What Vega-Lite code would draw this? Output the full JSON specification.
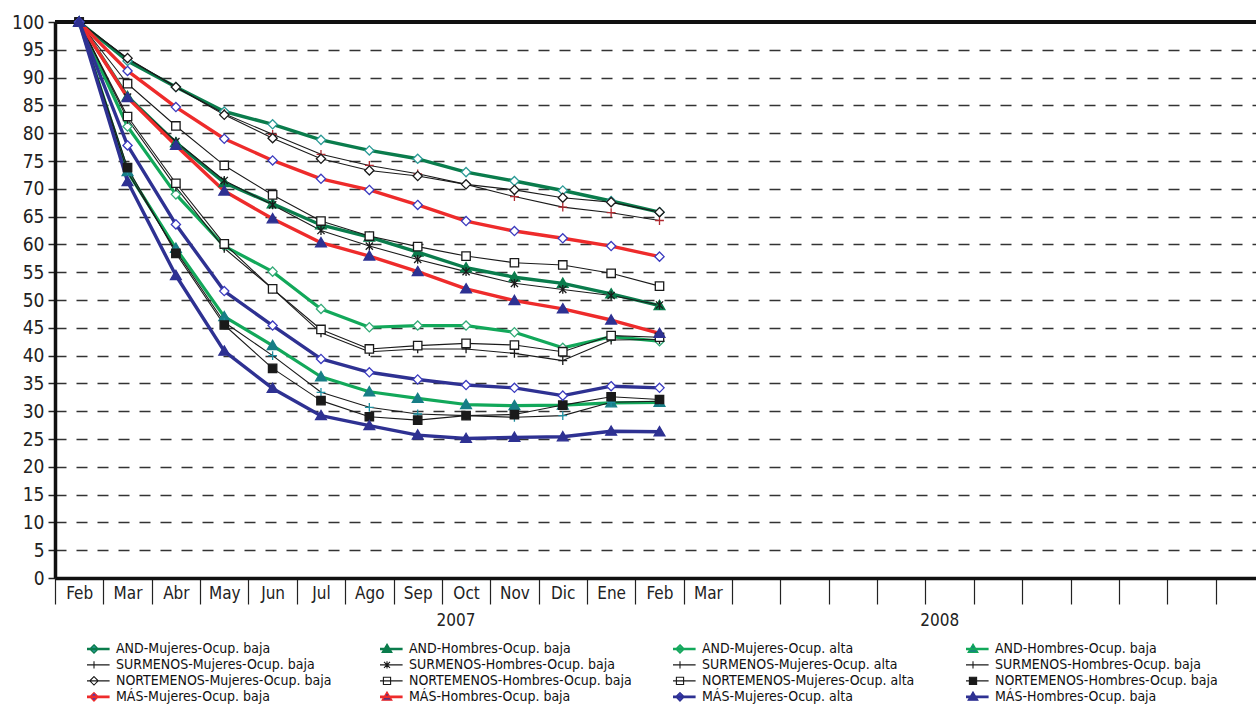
{
  "$schema": "https://vega.github.io/schema/vega-lite/v6.json",
  "autosize": {"type": "none"},
  "padding": {"left": 55, "top": 22, "right": 0, "bottom": 133},
  "width": 1201,
  "height": 556,
  "background": "white",
  "config": {
    "view": {"stroke": null},
    "font": "DejaVu Sans Condensed",
    "axis": {"labelFont": "DejaVu Sans Condensed", "labelColor": "#222"},
    "legend": {"labelFont": "DejaVu Sans Condensed"},
    "text": {"font": "DejaVu Sans Condensed"}
  },
  "data": {"values": [
    {"s":"AND-Mujeres-Ocup. baja","m":"Feb07","v":100},{"s":"AND-Mujeres-Ocup. baja","m":"Mar07","v":93.0},{"s":"AND-Mujeres-Ocup. baja","m":"Abr07","v":88.3},{"s":"AND-Mujeres-Ocup. baja","m":"May07","v":83.9},{"s":"AND-Mujeres-Ocup. baja","m":"Jun07","v":81.6},{"s":"AND-Mujeres-Ocup. baja","m":"Jul07","v":78.8},{"s":"AND-Mujeres-Ocup. baja","m":"Ago07","v":76.9},{"s":"AND-Mujeres-Ocup. baja","m":"Sep07","v":75.4},{"s":"AND-Mujeres-Ocup. baja","m":"Oct07","v":73.0},{"s":"AND-Mujeres-Ocup. baja","m":"Nov07","v":71.4},{"s":"AND-Mujeres-Ocup. baja","m":"Dic07","v":69.7},{"s":"AND-Mujeres-Ocup. baja","m":"Ene08","v":67.8},{"s":"AND-Mujeres-Ocup. baja","m":"Feb08","v":65.8},
    {"s":"AND-Hombres-Ocup. baja","m":"Feb07","v":100},{"s":"AND-Hombres-Ocup. baja","m":"Mar07","v":86.6},{"s":"AND-Hombres-Ocup. baja","m":"Abr07","v":78.3},{"s":"AND-Hombres-Ocup. baja","m":"May07","v":71.1},{"s":"AND-Hombres-Ocup. baja","m":"Jun07","v":67.3},{"s":"AND-Hombres-Ocup. baja","m":"Jul07","v":63.5},{"s":"AND-Hombres-Ocup. baja","m":"Ago07","v":61.3},{"s":"AND-Hombres-Ocup. baja","m":"Sep07","v":58.6},{"s":"AND-Hombres-Ocup. baja","m":"Oct07","v":55.8},{"s":"AND-Hombres-Ocup. baja","m":"Nov07","v":54.1},{"s":"AND-Hombres-Ocup. baja","m":"Dic07","v":53.0},{"s":"AND-Hombres-Ocup. baja","m":"Ene08","v":51.1},{"s":"AND-Hombres-Ocup. baja","m":"Feb08","v":49.0},
    {"s":"AND-Mujeres-Ocup. alta","m":"Feb07","v":100},{"s":"AND-Mujeres-Ocup. alta","m":"Mar07","v":81.2},{"s":"AND-Mujeres-Ocup. alta","m":"Abr07","v":69.0},{"s":"AND-Mujeres-Ocup. alta","m":"May07","v":59.7},{"s":"AND-Mujeres-Ocup. alta","m":"Jun07","v":55.1},{"s":"AND-Mujeres-Ocup. alta","m":"Jul07","v":48.4},{"s":"AND-Mujeres-Ocup. alta","m":"Ago07","v":45.1},{"s":"AND-Mujeres-Ocup. alta","m":"Sep07","v":45.4},{"s":"AND-Mujeres-Ocup. alta","m":"Oct07","v":45.4},{"s":"AND-Mujeres-Ocup. alta","m":"Nov07","v":44.2},{"s":"AND-Mujeres-Ocup. alta","m":"Dic07","v":41.4},{"s":"AND-Mujeres-Ocup. alta","m":"Ene08","v":43.4},{"s":"AND-Mujeres-Ocup. alta","m":"Feb08","v":42.6},
    {"s":"AND-Hombres-Ocup. baja#2","m":"Feb07","v":100},{"s":"AND-Hombres-Ocup. baja#2","m":"Mar07","v":73.1},{"s":"AND-Hombres-Ocup. baja#2","m":"Abr07","v":59.3},{"s":"AND-Hombres-Ocup. baja#2","m":"May07","v":47.0},{"s":"AND-Hombres-Ocup. baja#2","m":"Jun07","v":41.8},{"s":"AND-Hombres-Ocup. baja#2","m":"Jul07","v":36.2},{"s":"AND-Hombres-Ocup. baja#2","m":"Ago07","v":33.5},{"s":"AND-Hombres-Ocup. baja#2","m":"Sep07","v":32.3},{"s":"AND-Hombres-Ocup. baja#2","m":"Oct07","v":31.2},{"s":"AND-Hombres-Ocup. baja#2","m":"Nov07","v":31.0},{"s":"AND-Hombres-Ocup. baja#2","m":"Dic07","v":31.1},{"s":"AND-Hombres-Ocup. baja#2","m":"Ene08","v":31.5},{"s":"AND-Hombres-Ocup. baja#2","m":"Feb08","v":31.6},
    {"s":"SURMENOS-Mujeres-Ocup. baja","m":"Feb07","v":100},{"s":"SURMENOS-Mujeres-Ocup. baja","m":"Mar07","v":93.4},{"s":"SURMENOS-Mujeres-Ocup. baja","m":"Abr07","v":88.3},{"s":"SURMENOS-Mujeres-Ocup. baja","m":"May07","v":83.5},{"s":"SURMENOS-Mujeres-Ocup. baja","m":"Jun07","v":79.8},{"s":"SURMENOS-Mujeres-Ocup. baja","m":"Jul07","v":76.2},{"s":"SURMENOS-Mujeres-Ocup. baja","m":"Ago07","v":74.2},{"s":"SURMENOS-Mujeres-Ocup. baja","m":"Sep07","v":72.7},{"s":"SURMENOS-Mujeres-Ocup. baja","m":"Oct07","v":70.8},{"s":"SURMENOS-Mujeres-Ocup. baja","m":"Nov07","v":68.6},{"s":"SURMENOS-Mujeres-Ocup. baja","m":"Dic07","v":66.7},{"s":"SURMENOS-Mujeres-Ocup. baja","m":"Ene08","v":65.7},{"s":"SURMENOS-Mujeres-Ocup. baja","m":"Feb08","v":64.3},
    {"s":"SURMENOS-Hombres-Ocup. baja","m":"Feb07","v":100},{"s":"SURMENOS-Hombres-Ocup. baja","m":"Mar07","v":86.5},{"s":"SURMENOS-Hombres-Ocup. baja","m":"Abr07","v":78.5},{"s":"SURMENOS-Hombres-Ocup. baja","m":"May07","v":71.5},{"s":"SURMENOS-Hombres-Ocup. baja","m":"Jun07","v":67.1},{"s":"SURMENOS-Hombres-Ocup. baja","m":"Jul07","v":62.5},{"s":"SURMENOS-Hombres-Ocup. baja","m":"Ago07","v":59.7},{"s":"SURMENOS-Hombres-Ocup. baja","m":"Sep07","v":57.3},{"s":"SURMENOS-Hombres-Ocup. baja","m":"Oct07","v":55.1},{"s":"SURMENOS-Hombres-Ocup. baja","m":"Nov07","v":53.0},{"s":"SURMENOS-Hombres-Ocup. baja","m":"Dic07","v":51.9},{"s":"SURMENOS-Hombres-Ocup. baja","m":"Ene08","v":50.8},{"s":"SURMENOS-Hombres-Ocup. baja","m":"Feb08","v":49.1},
    {"s":"SURMENOS-Mujeres-Ocup. alta","m":"Feb07","v":100},{"s":"SURMENOS-Mujeres-Ocup. alta","m":"Mar07","v":82.5},{"s":"SURMENOS-Mujeres-Ocup. alta","m":"Abr07","v":70.3},{"s":"SURMENOS-Mujeres-Ocup. alta","m":"May07","v":59.3},{"s":"SURMENOS-Mujeres-Ocup. alta","m":"Jun07","v":52.0},{"s":"SURMENOS-Mujeres-Ocup. alta","m":"Jul07","v":44.1},{"s":"SURMENOS-Mujeres-Ocup. alta","m":"Ago07","v":40.7},{"s":"SURMENOS-Mujeres-Ocup. alta","m":"Sep07","v":41.2},{"s":"SURMENOS-Mujeres-Ocup. alta","m":"Oct07","v":41.2},{"s":"SURMENOS-Mujeres-Ocup. alta","m":"Nov07","v":40.4},{"s":"SURMENOS-Mujeres-Ocup. alta","m":"Dic07","v":39.1},{"s":"SURMENOS-Mujeres-Ocup. alta","m":"Ene08","v":42.8},{"s":"SURMENOS-Mujeres-Ocup. alta","m":"Feb08","v":42.9},
    {"s":"SURMENOS-Hombres-Ocup. baja#2","m":"Feb07","v":100},{"s":"SURMENOS-Hombres-Ocup. baja#2","m":"Mar07","v":73.0},{"s":"SURMENOS-Hombres-Ocup. baja#2","m":"Abr07","v":58.8},{"s":"SURMENOS-Hombres-Ocup. baja#2","m":"May07","v":46.0},{"s":"SURMENOS-Hombres-Ocup. baja#2","m":"Jun07","v":40.0},{"s":"SURMENOS-Hombres-Ocup. baja#2","m":"Jul07","v":33.4},{"s":"SURMENOS-Hombres-Ocup. baja#2","m":"Ago07","v":30.7},{"s":"SURMENOS-Hombres-Ocup. baja#2","m":"Sep07","v":29.5},{"s":"SURMENOS-Hombres-Ocup. baja#2","m":"Oct07","v":29.2},{"s":"SURMENOS-Hombres-Ocup. baja#2","m":"Nov07","v":28.9},{"s":"SURMENOS-Hombres-Ocup. baja#2","m":"Dic07","v":29.2},{"s":"SURMENOS-Hombres-Ocup. baja#2","m":"Ene08","v":31.6},{"s":"SURMENOS-Hombres-Ocup. baja#2","m":"Feb08","v":31.8},
    {"s":"NORTEMENOS-Mujeres-Ocup. baja","m":"Feb07","v":100},{"s":"NORTEMENOS-Mujeres-Ocup. baja","m":"Mar07","v":93.5},{"s":"NORTEMENOS-Mujeres-Ocup. baja","m":"Abr07","v":88.3},{"s":"NORTEMENOS-Mujeres-Ocup. baja","m":"May07","v":83.3},{"s":"NORTEMENOS-Mujeres-Ocup. baja","m":"Jun07","v":79.1},{"s":"NORTEMENOS-Mujeres-Ocup. baja","m":"Jul07","v":75.4},{"s":"NORTEMENOS-Mujeres-Ocup. baja","m":"Ago07","v":73.3},{"s":"NORTEMENOS-Mujeres-Ocup. baja","m":"Sep07","v":72.3},{"s":"NORTEMENOS-Mujeres-Ocup. baja","m":"Oct07","v":70.8},{"s":"NORTEMENOS-Mujeres-Ocup. baja","m":"Nov07","v":69.8},{"s":"NORTEMENOS-Mujeres-Ocup. baja","m":"Dic07","v":68.4},{"s":"NORTEMENOS-Mujeres-Ocup. baja","m":"Ene08","v":67.6},{"s":"NORTEMENOS-Mujeres-Ocup. baja","m":"Feb08","v":65.8},
    {"s":"NORTEMENOS-Hombres-Ocup. baja","m":"Feb07","v":100},{"s":"NORTEMENOS-Hombres-Ocup. baja","m":"Mar07","v":88.9},{"s":"NORTEMENOS-Hombres-Ocup. baja","m":"Abr07","v":81.3},{"s":"NORTEMENOS-Hombres-Ocup. baja","m":"May07","v":74.2},{"s":"NORTEMENOS-Hombres-Ocup. baja","m":"Jun07","v":68.9},{"s":"NORTEMENOS-Hombres-Ocup. baja","m":"Jul07","v":64.2},{"s":"NORTEMENOS-Hombres-Ocup. baja","m":"Ago07","v":61.5},{"s":"NORTEMENOS-Hombres-Ocup. baja","m":"Sep07","v":59.6},{"s":"NORTEMENOS-Hombres-Ocup. baja","m":"Oct07","v":57.9},{"s":"NORTEMENOS-Hombres-Ocup. baja","m":"Nov07","v":56.7},{"s":"NORTEMENOS-Hombres-Ocup. baja","m":"Dic07","v":56.3},{"s":"NORTEMENOS-Hombres-Ocup. baja","m":"Ene08","v":54.8},{"s":"NORTEMENOS-Hombres-Ocup. baja","m":"Feb08","v":52.5},
    {"s":"NORTEMENOS-Mujeres-Ocup. alta","m":"Feb07","v":100},{"s":"NORTEMENOS-Mujeres-Ocup. alta","m":"Mar07","v":83.0},{"s":"NORTEMENOS-Mujeres-Ocup. alta","m":"Abr07","v":71.0},{"s":"NORTEMENOS-Mujeres-Ocup. alta","m":"May07","v":60.1},{"s":"NORTEMENOS-Mujeres-Ocup. alta","m":"Jun07","v":52.0},{"s":"NORTEMENOS-Mujeres-Ocup. alta","m":"Jul07","v":44.7},{"s":"NORTEMENOS-Mujeres-Ocup. alta","m":"Ago07","v":41.2},{"s":"NORTEMENOS-Mujeres-Ocup. alta","m":"Sep07","v":41.8},{"s":"NORTEMENOS-Mujeres-Ocup. alta","m":"Oct07","v":42.2},{"s":"NORTEMENOS-Mujeres-Ocup. alta","m":"Nov07","v":41.9},{"s":"NORTEMENOS-Mujeres-Ocup. alta","m":"Dic07","v":40.7},{"s":"NORTEMENOS-Mujeres-Ocup. alta","m":"Ene08","v":43.6},{"s":"NORTEMENOS-Mujeres-Ocup. alta","m":"Feb08","v":43.3},
    {"s":"NORTEMENOS-Hombres-Ocup. baja#2","m":"Feb07","v":100},{"s":"NORTEMENOS-Hombres-Ocup. baja#2","m":"Mar07","v":73.8},{"s":"NORTEMENOS-Hombres-Ocup. baja#2","m":"Abr07","v":58.4},{"s":"NORTEMENOS-Hombres-Ocup. baja#2","m":"May07","v":45.5},{"s":"NORTEMENOS-Hombres-Ocup. baja#2","m":"Jun07","v":37.7},{"s":"NORTEMENOS-Hombres-Ocup. baja#2","m":"Jul07","v":31.9},{"s":"NORTEMENOS-Hombres-Ocup. baja#2","m":"Ago07","v":29.0},{"s":"NORTEMENOS-Hombres-Ocup. baja#2","m":"Sep07","v":28.4},{"s":"NORTEMENOS-Hombres-Ocup. baja#2","m":"Oct07","v":29.2},{"s":"NORTEMENOS-Hombres-Ocup. baja#2","m":"Nov07","v":29.4},{"s":"NORTEMENOS-Hombres-Ocup. baja#2","m":"Dic07","v":31.1},{"s":"NORTEMENOS-Hombres-Ocup. baja#2","m":"Ene08","v":32.6},{"s":"NORTEMENOS-Hombres-Ocup. baja#2","m":"Feb08","v":32.1},
    {"s":"MÁS-Mujeres-Ocup. baja","m":"Feb07","v":100},{"s":"MÁS-Mujeres-Ocup. baja","m":"Mar07","v":91.2},{"s":"MÁS-Mujeres-Ocup. baja","m":"Abr07","v":84.7},{"s":"MÁS-Mujeres-Ocup. baja","m":"May07","v":79.0},{"s":"MÁS-Mujeres-Ocup. baja","m":"Jun07","v":75.1},{"s":"MÁS-Mujeres-Ocup. baja","m":"Jul07","v":71.8},{"s":"MÁS-Mujeres-Ocup. baja","m":"Ago07","v":69.8},{"s":"MÁS-Mujeres-Ocup. baja","m":"Sep07","v":67.1},{"s":"MÁS-Mujeres-Ocup. baja","m":"Oct07","v":64.2},{"s":"MÁS-Mujeres-Ocup. baja","m":"Nov07","v":62.4},{"s":"MÁS-Mujeres-Ocup. baja","m":"Dic07","v":61.1},{"s":"MÁS-Mujeres-Ocup. baja","m":"Ene08","v":59.7},{"s":"MÁS-Mujeres-Ocup. baja","m":"Feb08","v":57.8},
    {"s":"MÁS-Hombres-Ocup. baja","m":"Feb07","v":100},{"s":"MÁS-Hombres-Ocup. baja","m":"Mar07","v":86.4},{"s":"MÁS-Hombres-Ocup. baja","m":"Abr07","v":77.8},{"s":"MÁS-Hombres-Ocup. baja","m":"May07","v":69.6},{"s":"MÁS-Hombres-Ocup. baja","m":"Jun07","v":64.6},{"s":"MÁS-Hombres-Ocup. baja","m":"Jul07","v":60.3},{"s":"MÁS-Hombres-Ocup. baja","m":"Ago07","v":57.9},{"s":"MÁS-Hombres-Ocup. baja","m":"Sep07","v":55.1},{"s":"MÁS-Hombres-Ocup. baja","m":"Oct07","v":52.0},{"s":"MÁS-Hombres-Ocup. baja","m":"Nov07","v":49.9},{"s":"MÁS-Hombres-Ocup. baja","m":"Dic07","v":48.4},{"s":"MÁS-Hombres-Ocup. baja","m":"Ene08","v":46.4},{"s":"MÁS-Hombres-Ocup. baja","m":"Feb08","v":44.0},
    {"s":"MÁS-Mujeres-Ocup. alta","m":"Feb07","v":100},{"s":"MÁS-Mujeres-Ocup. alta","m":"Mar07","v":77.8},{"s":"MÁS-Mujeres-Ocup. alta","m":"Abr07","v":63.6},{"s":"MÁS-Mujeres-Ocup. alta","m":"May07","v":51.6},{"s":"MÁS-Mujeres-Ocup. alta","m":"Jun07","v":45.4},{"s":"MÁS-Mujeres-Ocup. alta","m":"Jul07","v":39.4},{"s":"MÁS-Mujeres-Ocup. alta","m":"Ago07","v":37.0},{"s":"MÁS-Mujeres-Ocup. alta","m":"Sep07","v":35.7},{"s":"MÁS-Mujeres-Ocup. alta","m":"Oct07","v":34.7},{"s":"MÁS-Mujeres-Ocup. alta","m":"Nov07","v":34.2},{"s":"MÁS-Mujeres-Ocup. alta","m":"Dic07","v":32.8},{"s":"MÁS-Mujeres-Ocup. alta","m":"Ene08","v":34.5},{"s":"MÁS-Mujeres-Ocup. alta","m":"Feb08","v":34.2},
    {"s":"MÁS-Hombres-Ocup. baja#2","m":"Feb07","v":100},{"s":"MÁS-Hombres-Ocup. baja#2","m":"Mar07","v":71.3},{"s":"MÁS-Hombres-Ocup. baja#2","m":"Abr07","v":54.4},{"s":"MÁS-Hombres-Ocup. baja#2","m":"May07","v":40.8},{"s":"MÁS-Hombres-Ocup. baja#2","m":"Jun07","v":34.1},{"s":"MÁS-Hombres-Ocup. baja#2","m":"Jul07","v":29.2},{"s":"MÁS-Hombres-Ocup. baja#2","m":"Ago07","v":27.4},{"s":"MÁS-Hombres-Ocup. baja#2","m":"Sep07","v":25.7},{"s":"MÁS-Hombres-Ocup. baja#2","m":"Oct07","v":25.1},{"s":"MÁS-Hombres-Ocup. baja#2","m":"Nov07","v":25.3},{"s":"MÁS-Hombres-Ocup. baja#2","m":"Dic07","v":25.4},{"s":"MÁS-Hombres-Ocup. baja#2","m":"Ene08","v":26.4},{"s":"MÁS-Hombres-Ocup. baja#2","m":"Feb08","v":26.3}
  ]},
  "resolve": {"scale": {"shape": "independent", "fill": "independent", "stroke": "independent", "strokeWidth": "independent"}, "axis": {"x": "independent"}},
  "encoding": {
    "x": {
      "field": "m", "type": "ordinal", "sort": null,
      "scale": {"type": "band", "paddingInner": 0, "paddingOuter": 0, "range": [0, 1209],
        "domain": ["Feb07","Mar07","Abr07","May07","Jun07","Jul07","Ago07","Sep07","Oct07","Nov07","Dic07","Ene08","Feb08","Mar08","x15","x16","x17","x18","x19","x20","x21","x22","x23","x24","x25"]},
      "axis": {
        "title": null, "orient": "bottom", "tickBand": "extent", "labelAngle": 0,
        "labelExpr": "indexof(datum.label,'x')==0 ? '' : slice(datum.label,0,3)",
        "domainColor": "#111", "domainWidth": 3.5, "tickColor": "#222", "tickWidth": 1.2, "tickSize": 26,
        "labelFontSize": 17, "labelPadding": -19, "labelBaseline": "top", "grid": false
      }
    },
    "y": {
      "field": "v", "type": "quantitative",
      "scale": {"domain": [0, 100], "nice": false, "zero": true},
      "axis": {
        "title": null, "values": [0,5,10,15,20,25,30,35,40,45,50,55,60,65,70,75,80,85,90,95,100],
        "domainColor": "#111", "domainWidth": 3.5, "tickColor": "#222", "tickWidth": 1.5, "tickSize": 7,
        "labelFontSize": 19, "labelPadding": 4,
        "grid": true, "gridDash": [11, 10], "gridColor": "#333", "gridWidth": 1.5
      }
    }
  },
  "layer": [
    {
      "mark": {"type": "rule", "color": "#111", "strokeWidth": 3.5},
      "encoding": {"y": {"datum": 100}, "x": null}
    },
    {
      "mark": {"type": "line", "strokeJoin": "round"},
      "encoding": {
        "color": {"field": "s", "type": "nominal", "legend": null,
          "scale": {"domain": ["AND-Mujeres-Ocup. baja","AND-Hombres-Ocup. baja","AND-Mujeres-Ocup. alta","AND-Hombres-Ocup. baja#2","SURMENOS-Mujeres-Ocup. baja","SURMENOS-Hombres-Ocup. baja","SURMENOS-Mujeres-Ocup. alta","SURMENOS-Hombres-Ocup. baja#2","NORTEMENOS-Mujeres-Ocup. baja","NORTEMENOS-Hombres-Ocup. baja","NORTEMENOS-Mujeres-Ocup. alta","NORTEMENOS-Hombres-Ocup. baja#2","MÁS-Mujeres-Ocup. baja","MÁS-Hombres-Ocup. baja","MÁS-Mujeres-Ocup. alta","MÁS-Hombres-Ocup. baja#2"],
            "range": ["#0a7c4c","#0a7c4c","#12a85a","#12a85a","#1a1a1a","#1a1a1a","#1a1a1a","#1a1a1a","#1a1a1a","#1a1a1a","#1a1a1a","#1a1a1a","#ee2b2b","#ee2b2b","#2e3192","#2e3192"]}},
        "strokeWidth": {"field": "s", "type": "nominal", "legend": null,
          "scale": {"type": "ordinal", "domain": ["AND-Mujeres-Ocup. baja","AND-Hombres-Ocup. baja","AND-Mujeres-Ocup. alta","AND-Hombres-Ocup. baja#2","SURMENOS-Mujeres-Ocup. baja","SURMENOS-Hombres-Ocup. baja","SURMENOS-Mujeres-Ocup. alta","SURMENOS-Hombres-Ocup. baja#2","NORTEMENOS-Mujeres-Ocup. baja","NORTEMENOS-Hombres-Ocup. baja","NORTEMENOS-Mujeres-Ocup. alta","NORTEMENOS-Hombres-Ocup. baja#2","MÁS-Mujeres-Ocup. baja","MÁS-Hombres-Ocup. baja","MÁS-Mujeres-Ocup. alta","MÁS-Hombres-Ocup. baja#2"],
            "range": [3.4,3.4,3.2,3.2,1.1,1.1,1.1,1.1,1.1,1.1,1.1,1.1,3.4,3.4,3.4,3.4]}}
      }
    },
    {
      "mark": {"type": "point", "filled": true, "size": 16, "strokeWidth": 1.3, "opacity": 1},
      "encoding": {
        "x": {"field": "m", "type": "ordinal", "sort": null, "axis": null},
        "shape": {"field": "s", "type": "nominal", "legend": null,
          "scale": {"domain": ["AND-Mujeres-Ocup. baja","AND-Hombres-Ocup. baja","AND-Mujeres-Ocup. alta","AND-Hombres-Ocup. baja#2","SURMENOS-Mujeres-Ocup. baja","SURMENOS-Hombres-Ocup. baja","SURMENOS-Mujeres-Ocup. alta","SURMENOS-Hombres-Ocup. baja#2","NORTEMENOS-Mujeres-Ocup. baja","NORTEMENOS-Hombres-Ocup. baja","NORTEMENOS-Mujeres-Ocup. alta","NORTEMENOS-Hombres-Ocup. baja#2","MÁS-Mujeres-Ocup. baja","MÁS-Hombres-Ocup. baja","MÁS-Mujeres-Ocup. alta","MÁS-Hombres-Ocup. baja#2"],
            "range": ["M0,-2.3L2.3,0L0,2.3L-2.3,0Z","M0,-2.6L2.7,2L-2.7,2Z","M0,-2.3L2.3,0L0,2.3L-2.3,0Z","M0,-2.6L2.7,2L-2.7,2Z","M-2.2,0H2.2M0,-2.2V2.2","M-1.8,-1.8L1.8,1.8M-1.8,1.8L1.8,-1.8M0,-2.2V2.2","M-2.2,0H2.2M0,-2.2V2.2","M-2.2,0H2.2M0,-2.2V2.2","M0,-2.3L2.3,0L0,2.3L-2.3,0Z","M-2.1,-2.1H2.1V2.1H-2.1Z","M-2.1,-2.1H2.1V2.1H-2.1Z","M-2.1,-2.1H2.1V2.1H-2.1Z","M0,-2.3L2.3,0L0,2.3L-2.3,0Z","M0,-2.6L2.7,2L-2.7,2Z","M0,-2.3L2.3,0L0,2.3L-2.3,0Z","M0,-2.6L2.7,2L-2.7,2Z"]}},
        "stroke": {"field": "s", "type": "nominal", "legend": null,
          "scale": {"domain": ["AND-Mujeres-Ocup. baja","AND-Hombres-Ocup. baja","AND-Mujeres-Ocup. alta","AND-Hombres-Ocup. baja#2","SURMENOS-Mujeres-Ocup. baja","SURMENOS-Hombres-Ocup. baja","SURMENOS-Mujeres-Ocup. alta","SURMENOS-Hombres-Ocup. baja#2","NORTEMENOS-Mujeres-Ocup. baja","NORTEMENOS-Hombres-Ocup. baja","NORTEMENOS-Mujeres-Ocup. alta","NORTEMENOS-Hombres-Ocup. baja#2","MÁS-Mujeres-Ocup. baja","MÁS-Hombres-Ocup. baja","MÁS-Mujeres-Ocup. alta","MÁS-Hombres-Ocup. baja#2"],
            "range": ["#2a9a96","#0a7c4c","#33aa77","#177e86","#b02a30","#1a1a1a","#1a1a1a","#1e8fa0","#1a1a1a","#1a1a1a","#1a1a1a","#1a1a1a","#3b3bbf","#2e3192","#3b3bbf","#2e3192"]}},
        "fill": {"field": "s", "type": "nominal", "legend": null,
          "scale": {"domain": ["AND-Mujeres-Ocup. baja","AND-Hombres-Ocup. baja","AND-Mujeres-Ocup. alta","AND-Hombres-Ocup. baja#2","SURMENOS-Mujeres-Ocup. baja","SURMENOS-Hombres-Ocup. baja","SURMENOS-Mujeres-Ocup. alta","SURMENOS-Hombres-Ocup. baja#2","NORTEMENOS-Mujeres-Ocup. baja","NORTEMENOS-Hombres-Ocup. baja","NORTEMENOS-Mujeres-Ocup. alta","NORTEMENOS-Hombres-Ocup. baja#2","MÁS-Mujeres-Ocup. baja","MÁS-Hombres-Ocup. baja","MÁS-Mujeres-Ocup. alta","MÁS-Hombres-Ocup. baja#2"],
            "range": ["white","#0a7c4c","white","#177e86","white","white","white","white","white","white","white","#1a1a1a","white","#2e3192","white","#2e3192"]}}
      }
    },
    {
      "transform": [{"filter": "false"}],
      "mark": {"type": "point", "filled": true, "opacity": 1},
      "encoding": {
        "x": {"field": "m", "type": "ordinal", "sort": null,
          "axis": {"title": null, "orient": "bottom", "values": ["Oct07", "x19"], "labelExpr": "datum.value == 'Oct07' ? '2007' : '2008'", "domain": false, "ticks": false, "grid": false, "labelAngle": 0, "labelPadding": 34, "labelOffset": -10, "labelBaseline": "top", "labelFontSize": 17, "labelOverlap": false}},
        "shape": {"field": "s", "type": "nominal",
          "legend": {"orient": "none", "legendX": 32, "legendY": 619, "direction": "horizontal", "columns": 4, "gridAlign": "all", "columnPadding": 41, "rowPadding": 0, "clipHeight": 15.7, "symbolSize": 144, "symbolOpacity": 1, "labelOffset": 15, "labelFontSize": 14, "labelColor": "#111", "labelLimit": 400, "title": null, "padding": 0, "labelExpr": "replace(datum.label,'#2','')"},
          "scale": {"domain": ["AND-Mujeres-Ocup. baja","AND-Hombres-Ocup. baja","AND-Mujeres-Ocup. alta","AND-Hombres-Ocup. baja#2","SURMENOS-Mujeres-Ocup. baja","SURMENOS-Hombres-Ocup. baja","SURMENOS-Mujeres-Ocup. alta","SURMENOS-Hombres-Ocup. baja#2","NORTEMENOS-Mujeres-Ocup. baja","NORTEMENOS-Hombres-Ocup. baja","NORTEMENOS-Mujeres-Ocup. alta","NORTEMENOS-Hombres-Ocup. baja#2","MÁS-Mujeres-Ocup. baja","MÁS-Hombres-Ocup. baja","MÁS-Mujeres-Ocup. alta","MÁS-Hombres-Ocup. baja#2"],
            "range": [
              "M-2.6,-0.12H2.6M-2.6,0H2.6M-2.6,0.12H2.6M0,-0.7L0.7,0L0,0.7L-0.7,0Z",
              "M-2.6,-0.12H2.6M-2.6,0H2.6M-2.6,0.12H2.6M0,-0.8L0.8,0.55L-0.8,0.55Z",
              "M-2.6,-0.12H2.6M-2.6,0H2.6M-2.6,0.12H2.6M0,-0.7L0.7,0L0,0.7L-0.7,0Z",
              "M-2.6,-0.12H2.6M-2.6,0H2.6M-2.6,0.12H2.6M0,-0.8L0.8,0.55L-0.8,0.55Z",
              "M-2.6,0H2.6M0,-0.6V0.6",
              "M-2.6,0H2.6M-0.5,-0.5L0.5,0.5M-0.5,0.5L0.5,-0.5M0,-0.6V0.6",
              "M-2.6,0H2.6M0,-0.6V0.6",
              "M-2.6,0H2.6M0,-0.6V0.6",
              "M-2.6,0H2.6M0,-0.7L0.7,0L0,0.7L-0.7,0Z",
              "M-2.6,0H2.6M-0.6,-0.6H0.6V0.6H-0.6Z",
              "M-2.6,0H2.6M-0.6,-0.6H0.6V0.6H-0.6Z",
              "M-2.6,0H2.6M-0.6,-0.6H0.6V0.6H-0.6Z",
              "M-2.6,-0.12H2.6M-2.6,0H2.6M-2.6,0.12H2.6M0,-0.7L0.7,0L0,0.7L-0.7,0Z",
              "M-2.6,-0.12H2.6M-2.6,0H2.6M-2.6,0.12H2.6M0,-0.8L0.8,0.55L-0.8,0.55Z",
              "M-2.6,-0.12H2.6M-2.6,0H2.6M-2.6,0.12H2.6M0,-0.7L0.7,0L0,0.7L-0.7,0Z",
              "M-2.6,-0.12H2.6M-2.6,0H2.6M-2.6,0.12H2.6M0,-0.8L0.8,0.55L-0.8,0.55Z"]}},
        "stroke": {"field": "s", "type": "nominal",
          "legend": {"orient": "none", "legendX": 32, "legendY": 619, "direction": "horizontal", "columns": 4, "gridAlign": "all", "columnPadding": 41, "rowPadding": 0, "clipHeight": 15.7, "symbolSize": 144, "symbolOpacity": 1, "labelOffset": 15, "labelFontSize": 14, "labelColor": "#111", "labelLimit": 400, "title": null, "padding": 0, "labelExpr": "replace(datum.label,'#2','')"},
          "scale": {"domain": ["AND-Mujeres-Ocup. baja","AND-Hombres-Ocup. baja","AND-Mujeres-Ocup. alta","AND-Hombres-Ocup. baja#2","SURMENOS-Mujeres-Ocup. baja","SURMENOS-Hombres-Ocup. baja","SURMENOS-Mujeres-Ocup. alta","SURMENOS-Hombres-Ocup. baja#2","NORTEMENOS-Mujeres-Ocup. baja","NORTEMENOS-Hombres-Ocup. baja","NORTEMENOS-Mujeres-Ocup. alta","NORTEMENOS-Hombres-Ocup. baja#2","MÁS-Mujeres-Ocup. baja","MÁS-Hombres-Ocup. baja","MÁS-Mujeres-Ocup. alta","MÁS-Hombres-Ocup. baja#2"],
            "range": ["#0a7c4c","#0a7c4c","#12a85a","#12a85a","#1a1a1a","#1a1a1a","#1a1a1a","#1a1a1a","#1a1a1a","#1a1a1a","#1a1a1a","#1a1a1a","#ee2b2b","#ee2b2b","#2e3192","#2e3192"]}},
        "fill": {"field": "s", "type": "nominal",
          "legend": {"orient": "none", "legendX": 32, "legendY": 619, "direction": "horizontal", "columns": 4, "gridAlign": "all", "columnPadding": 41, "rowPadding": 0, "clipHeight": 15.7, "symbolSize": 144, "symbolOpacity": 1, "labelOffset": 15, "labelFontSize": 14, "labelColor": "#111", "labelLimit": 400, "title": null, "padding": 0, "labelExpr": "replace(datum.label,'#2','')"},
          "scale": {"domain": ["AND-Mujeres-Ocup. baja","AND-Hombres-Ocup. baja","AND-Mujeres-Ocup. alta","AND-Hombres-Ocup. baja#2","SURMENOS-Mujeres-Ocup. baja","SURMENOS-Hombres-Ocup. baja","SURMENOS-Mujeres-Ocup. alta","SURMENOS-Hombres-Ocup. baja#2","NORTEMENOS-Mujeres-Ocup. baja","NORTEMENOS-Hombres-Ocup. baja","NORTEMENOS-Mujeres-Ocup. alta","NORTEMENOS-Hombres-Ocup. baja#2","MÁS-Mujeres-Ocup. baja","MÁS-Hombres-Ocup. baja","MÁS-Mujeres-Ocup. alta","MÁS-Hombres-Ocup. baja#2"],
            "range": ["#2a9a96","#0a7c4c","#33aa77","#177e86","white","white","white","white","white","white","white","#1a1a1a","#3b3bbf","#2e3192","#3b3bbf","#2e3192"]}},
        "strokeWidth": {"field": "s", "type": "nominal",
          "legend": {"orient": "none", "legendX": 32, "legendY": 619, "direction": "horizontal", "columns": 4, "gridAlign": "all", "columnPadding": 41, "rowPadding": 0, "clipHeight": 15.7, "symbolSize": 144, "symbolOpacity": 1, "labelOffset": 15, "labelFontSize": 14, "labelColor": "#111", "labelLimit": 400, "title": null, "padding": 0, "labelExpr": "replace(datum.label,'#2','')"},
          "scale": {"type": "ordinal", "domain": ["AND-Mujeres-Ocup. baja","AND-Hombres-Ocup. baja","AND-Mujeres-Ocup. alta","AND-Hombres-Ocup. baja#2","SURMENOS-Mujeres-Ocup. baja","SURMENOS-Hombres-Ocup. baja","SURMENOS-Mujeres-Ocup. alta","SURMENOS-Hombres-Ocup. baja#2","NORTEMENOS-Mujeres-Ocup. baja","NORTEMENOS-Hombres-Ocup. baja","NORTEMENOS-Mujeres-Ocup. alta","NORTEMENOS-Hombres-Ocup. baja#2","MÁS-Mujeres-Ocup. baja","MÁS-Hombres-Ocup. baja","MÁS-Mujeres-Ocup. alta","MÁS-Hombres-Ocup. baja#2"],
            "range": [1.3,1.3,1.3,1.3,1.1,1.1,1.1,1.1,1.1,1.1,1.1,1.1,1.3,1.3,1.3,1.3]}}
      }
    }
  ]
}
